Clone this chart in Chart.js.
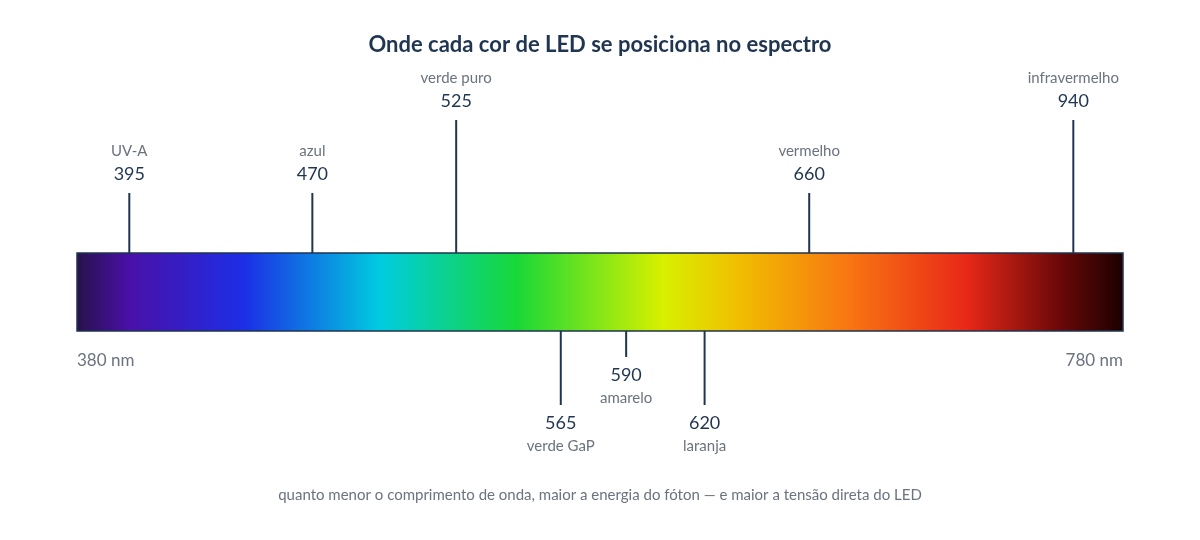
<!DOCTYPE html>
<html><head><meta charset="utf-8">
<script src="https://cdn.jsdelivr.net/npm/chart.js@4"></script>
<style>body{margin:0;background:#fff}#wrap{width:1200px;height:540px}</style>
</head><body><div id="wrap"><canvas id="c"></canvas></div>
<script>
const ledNames = ['UV-A', 'azul', 'verde puro', 'verde GaP', 'amarelo', 'laranja', 'vermelho', 'infravermelho'];
const ledNm = [395, 470, 525, 565, 590, 620, 660, 940];
const ledSide = ['up', 'up', 'up', 'down', 'down', 'down', 'up', 'up'];
const ledTall = [false, false, true, true, false, true, false, true];
const axisMin = 380, axisMax = 780;
// colour stops along the bar (fraction, colour)
const spectrumStops = [[0, '#27124a'], [0.05, '#4a10a8'], [0.16, '#1c2ee6'], [0.29, '#00cce0'], [0.42, '#18d838'], [0.56, '#d8f000'], [0.63, '#f0c000'], [0.74, '#f87412'], [0.85, '#e82818'], [0.94, '#6a0808'], [1, '#1c0000']];

const dark = '#1f3550', grey = '#6b7280', font = 'Lato, "Open Sans", sans-serif';

const spectrumPlugin = {
  id: 'spectrum',
  afterDraw(chart) {
    const ctx = chart.ctx, a = chart.chartArea, x = chart.scales.x;
    ctx.save();
    const g = ctx.createLinearGradient(a.left, 0, a.right, 0);
    spectrumStops.forEach(s => g.addColorStop(s[0], s[1]));
    ctx.fillStyle = g;
    ctx.fillRect(a.left, a.top, a.right - a.left, a.bottom - a.top);
    ctx.strokeStyle = dark; ctx.lineWidth = 1.5;
    ctx.strokeRect(a.left, a.top, a.right - a.left, a.bottom - a.top);

    ctx.textAlign = 'center'; ctx.textBaseline = 'middle';
    ctx.fillStyle = dark; ctx.font = 'bold 22px ' + font;
    ctx.fillText('Onde cada cor de LED se posiciona no espectro', 600, 45);

    ledNm.forEach((nm, i) => {
      const px = x.getPixelForValue(Math.min(Math.max(nm, 400), 761));
      ctx.strokeStyle = dark; ctx.lineWidth = 2;
      ctx.beginPath();
      if (ledSide[i] === 'up') {
        const top = ledTall[i] ? 120 : 193;
        ctx.moveTo(px, a.top); ctx.lineTo(px, top); ctx.stroke();
        ctx.fillStyle = dark; ctx.font = '18px ' + font;
        ctx.fillText(String(nm), px, top - 19);
        ctx.fillStyle = grey; ctx.font = '15px ' + font;
        ctx.fillText(ledNames[i], px, top - 42);
      } else {
        const bot = ledTall[i] ? 405 : 357;
        ctx.moveTo(px, a.bottom); ctx.lineTo(px, bot); ctx.stroke();
        ctx.fillStyle = dark; ctx.font = '18px ' + font;
        ctx.fillText(String(nm), px, bot + 18);
        ctx.fillStyle = grey; ctx.font = '15px ' + font;
        ctx.fillText(ledNames[i], px, bot + 41);
      }
    });

    ctx.fillStyle = grey; ctx.font = '17px ' + font;
    ctx.textAlign = 'left'; ctx.fillText(axisMin + ' nm', a.left, 361);
    ctx.textAlign = 'right'; ctx.fillText(axisMax + ' nm', a.right, 361);
    ctx.textAlign = 'center'; ctx.font = '15px ' + font;
    ctx.fillText('quanto menor o comprimento de onda, maior a energia do fóton — e maior a tensão direta do LED', 600, 495);
    ctx.restore();
  }
};

new Chart(document.getElementById('c'), {
  type: 'scatter',
  data: { datasets: [{ data: [], pointRadius: 0 }] },
  options: {
    responsive: true, maintainAspectRatio: false, animation: false,
    layout: { padding: { left: 77, right: 77, top: 253, bottom: 209 } },
    plugins: { legend: { display: false }, tooltip: { enabled: false } },
    scales: {
      x: { type: 'linear', min: axisMin, max: axisMax, display: false },
      y: { min: 0, max: 1, display: false }
    }
  },
  plugins: [spectrumPlugin]
});
</script></body></html>
